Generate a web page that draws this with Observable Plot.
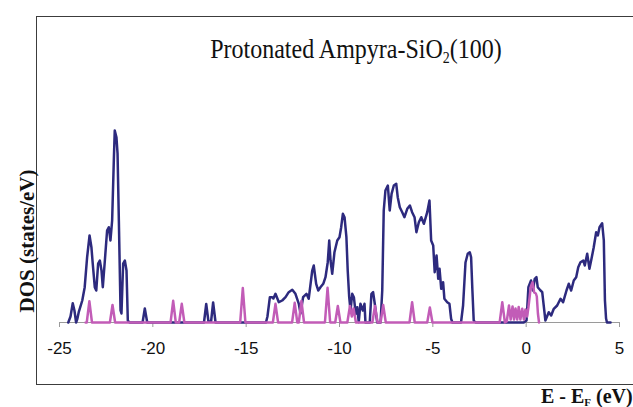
<!DOCTYPE html>
<html><head><meta charset="utf-8">
<script src="https://cdn.jsdelivr.net/npm/d3@7"></script>
<script src="https://cdn.jsdelivr.net/npm/@observablehq/plot@0.6"></script>
<style>
html,body{margin:0;padding:0;background:#fff;}
#wrap{position:relative;width:633px;height:407px;overflow:hidden;}
#box{position:absolute;left:36px;top:16px;width:640px;height:369px;border:1.5px solid #3c3c3c;box-sizing:border-box;}
#chart{position:absolute;left:0;top:0;}
.serif{font-family:"Liberation Serif","Times New Roman",Tinos,Times,serif;}
#title{position:absolute;left:0;width:712px;top:35px;text-align:center;font-size:24px;line-height:24px;color:#111;white-space:nowrap;transform:scaleY(1.15);transform-origin:50% 0;}
#title sub{font-size:14px;vertical-align:-4px;line-height:0;}
#ylab{position:absolute;left:27px;top:241px;transform:translate(-50%,-50%) rotate(-90deg);font-weight:bold;font-size:21px;white-space:nowrap;color:#111;}
#xlab{position:absolute;left:541px;top:385px;font-weight:bold;font-size:20px;line-height:22px;white-space:nowrap;color:#111;}
#xlab sub{font-size:11px;vertical-align:-3px;line-height:0;}
</style></head>
<body>
<div id="wrap">
  <div id="box"></div>
  <div id="chart"></div>
  <div id="title" class="serif">Protonated Ampyra-SiO<sub>2</sub>(100)</div>
  <div id="ylab" class="serif">DOS (states/eV)</div>
  <div id="xlab" class="serif">E - E<sub>F</sub> (eV)</div>
</div>
<script>
// Energy tick values (eV)
const xTicks = [-25, -20, -15, -10, -5, 0, 5];

// Total DOS (dark blue): [E - EF (eV), DOS]
const totalDOS = [
  [-24.53,0],[-24.41,0.6],[-24.29,1.93],[-24.20,1.2],[-24.11,0],[-24.04,0.4],[-23.97,1.03],[-23.78,2.2],[-23.65,3.53],[-23.52,6.53],
  [-23.39,8.7],[-23.29,7.53],[-23.22,5.9],[-23.11,3.53],[-23.03,3.2],[-22.93,5.9],[-22.84,6.2],[-22.75,5.2],[-22.68,3.53],[-22.57,6.2],
  [-22.45,9.2],[-22.36,9.53],[-22.27,8.2],[-22.18,10.2],[-22.09,16.2],[-22.04,19.2],[-21.95,18.53],[-21.89,16.9],[-21.82,10.2],[-21.73,1.2],
  [-21.68,0.9],[-21.59,5.9],[-21.50,6.2],[-21.41,5.2],[-21.34,0.2],[-21.25,0],
  [-20.55,0],[-20.43,1.4],[-20.30,0],
  [-17.26,0],[-17.14,1.85],[-17.02,0.1],[-16.88,0.1],[-16.77,2.0],[-16.64,0],
  [-13.94,0],[-13.86,0.6],[-13.73,2.53],[-13.61,2.53],[-13.54,2.4],[-13.43,2.87],[-13.25,2.03],[-13.07,2.2],[-12.89,2.53],[-12.72,3.03],
  [-12.53,3.27],[-12.36,2.87],[-12.18,1.87],[-12.09,0.9],[-11.95,2.53],[-11.77,2.87],[-11.65,2.37],[-11.46,5.2],[-11.38,5.7],[-11.25,3.87],
  [-11.14,3.2],[-11.02,3.53],[-10.87,3.87],[-10.75,4.53],[-10.63,6.03],[-10.55,8.2],[-10.48,6.2],[-10.39,4.87],[-10.27,7.03],[-10.12,8.2],
  [-10.00,8.53],[-9.91,9.53],[-9.82,10.87],[-9.73,10.53],[-9.63,8.53],[-9.56,5.2],[-9.48,2.53],[-9.41,1.2],[-9.32,2.87],[-9.23,2.53],
  [-9.13,0.87],[-9.05,1.53],[-8.97,0.03],[-8.88,1.87],[-8.75,1.2],[-8.66,1.87],[-8.61,0],
  [-8.38,0],[-8.29,2.87],[-8.20,3.03],[-8.11,1.87],[-7.98,0],
  [-7.80,0],[-7.71,3.2],[-7.63,11.2],[-7.54,13.2],[-7.41,13.7],[-7.31,11.2],[-7.21,12.87],[-7.09,13.7],[-6.96,13.87],[-6.88,12.53],
  [-6.77,11.53],[-6.64,11.03],[-6.52,10.53],[-6.37,11.37],[-6.23,11.7],[-6.11,11.03],[-5.98,10.53],[-5.88,9.03],[-5.75,10.03],[-5.62,10.53],
  [-5.48,9.87],[-5.30,11.03],[-5.18,12.2],[-5.09,8.2],[-4.98,7.7],[-4.90,5.03],[-4.80,6.7],[-4.71,4.37],[-4.64,5.37],[-4.55,3.37],
  [-4.45,4.03],[-4.38,2.37],[-4.23,2.03],[-4.11,1.87],[-4.02,0.37],[-3.95,0],
  [-3.49,0],[-3.38,1.7],[-3.25,6.0],[-3.13,6.87],[-3.02,7.03],[-2.95,6.53],[-2.88,3.2],[-2.81,0.2],[-2.71,0],
  [-0.13,0],[0.02,0.2],[0.12,3.53],[0.26,4.2],[0.36,3.2],[0.46,4.37],[0.55,4.53],[0.62,3.53],[0.77,3.2],[0.86,3.03],
  [0.98,1.03],[1.03,0.2],[1.21,1.03],[1.34,0.7],[1.48,1.37],[1.66,1.7],[1.84,2.37],[1.98,2.03],[2.16,3.2],[2.28,3.87],
  [2.41,3.2],[2.55,4.2],[2.68,4.53],[2.79,5.53],[2.91,6.03],[3.06,6.2],[3.14,5.7],[3.27,6.87],[3.39,5.37],[3.50,6.37],
  [3.62,7.53],[3.75,9.03],[3.84,8.7],[3.93,9.53],[4.07,9.93],[4.16,8.2],[4.22,2.2],[4.28,0.4],[4.33,0],[4.52,0]
];

// Projected DOS (magenta): [E - EF (eV), DOS]
const partialDOS = [
  [-23.60,0],
  [-23.54,0],[-23.40,2.13],[-23.26,0],
  [-22.30,0],[-22.16,1.75],[-22.02,0],
  [-19.05,0],[-18.91,2.17],[-18.77,0],
  [-18.59,0],[-18.45,1.87],[-18.31,0],
  [-15.32,0],[-15.18,3.45],[-15.04,0],
  [-13.57,0],[-13.43,1.87],[-13.29,0],
  [-12.54,0],[-12.40,1.97],[-12.26,0],
  [-12.18,0],[-12.04,2.15],[-11.90,0],
  [-10.78,0],[-10.64,3.47],[-10.50,0],
  [-10.23,0],[-10.09,1.65],[-9.95,0],
  [-9.58,0],[-9.44,1.65],[-9.34,0.6],[-9.25,1.4],[-9.12,0],
  [-8.24,0],[-8.10,1.65],[-7.96,0],
  [-7.80,0],[-7.66,1.75],[-7.52,0],
  [-6.25,0],[-6.11,2.03],[-5.97,0],
  [-5.30,0],[-5.16,1.5],[-5.02,0],
  [-1.42,0],[-1.28,2.03],[-1.14,0],
  [-1.04,0.1],[-0.92,1.7],[-0.83,0.3],[-0.73,1.6],[-0.65,0.3],[-0.57,1.4],[-0.48,0.3],[-0.40,1.55],[-0.31,0.3],[-0.21,1.37],
  [-0.12,0.3],[-0.04,1.3],[0.05,0.6],[0.12,1.5],[0.25,3.6],[0.34,4.03],[0.43,3.0],[0.52,2.9],[0.57,2.6],[0.63,0.9],[0.69,0]
];

const totalRows = totalDOS.map(([e, d]) => ({e, d}));
const partialRows = partialDOS.map(([e, d]) => ({e, d}));

const chart = Plot.plot({
  width: 633,
  height: 407,
  marginLeft: 59,
  marginRight: 14,
  marginTop: 16,
  marginBottom: 85,
  style: {background: "transparent", overflow: "visible"},
  x: {domain: [-25, 5], label: null},
  y: {domain: [0, 30.6], axis: null},
  marks: [
    Plot.ruleY([0], {stroke: "#9a9a9a", strokeWidth: 1.2}),
    Plot.axisX({ticks: xTicks, tickFormat: d => String(d), tickSize: 5, tickPadding: 14, stroke: "#9a9a9a", fill: "#111", fontSize: 17, fontFamily: "'Liberation Sans', Arial, Arimo, Helvetica, sans-serif", label: null}),
    Plot.line(totalRows, {x: "e", y: "d", stroke: "#2d2a7e", strokeWidth: 2.5, strokeLinejoin: "round"}),
    Plot.line(partialRows, {x: "e", y: "d", stroke: "#c25cb7", strokeWidth: 2.5, strokeLinejoin: "round"})
  ]
});
document.getElementById("chart").appendChild(chart);
</script>
</body></html>
